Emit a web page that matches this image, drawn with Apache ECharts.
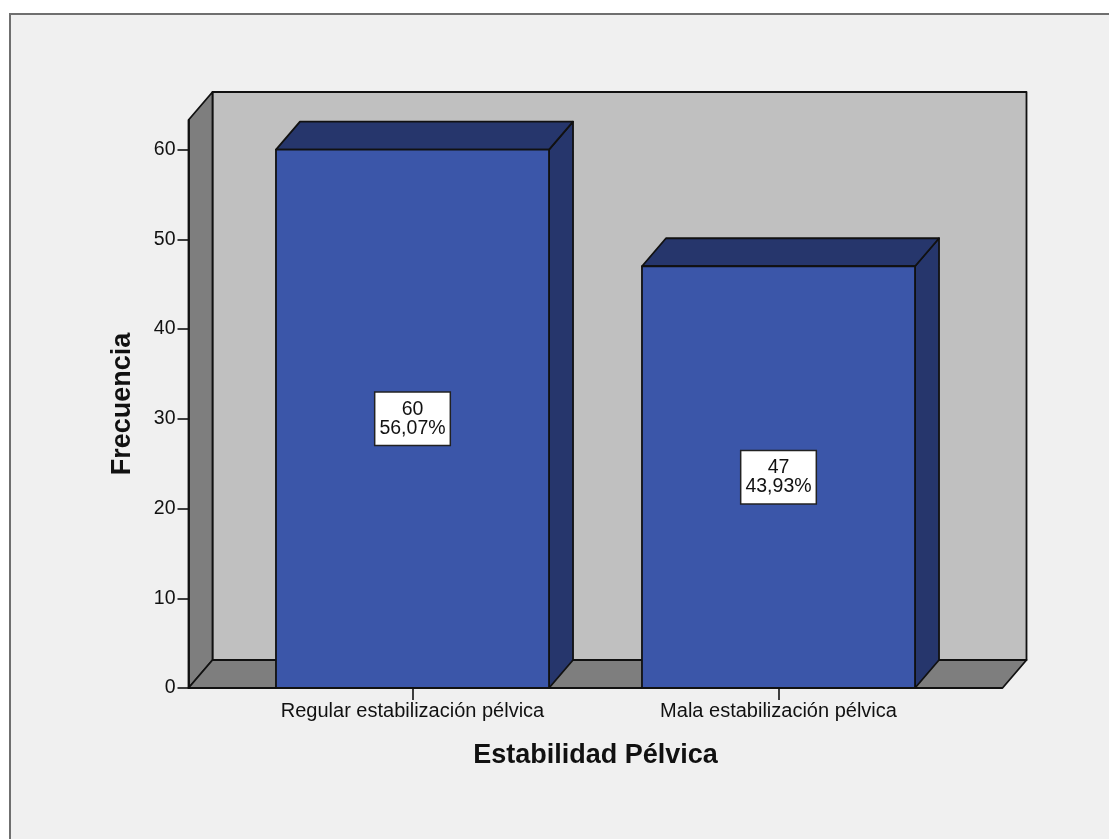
<!DOCTYPE html>
<html>
<head>
<meta charset="utf-8">
<script src="https://cdn.jsdelivr.net/npm/echarts@6/dist/echarts.min.js"></script>
<style>
  html, body { margin: 0; padding: 0; background: #ffffff; }
  #chart { width: 1109px; height: 839px; }
</style>
</head>
<body>
<div id="chart"></div>
<script>
// Frequency of pelvic stability categories
const categories = ['Regular estabilización pélvica', 'Mala estabilización pélvica'];
const counts = [60, 47];
const yTicks = [0, 10, 20, 30, 40, 50, 60];
const yMax = 63.3;

const total = counts.reduce((a, b) => a + b, 0);
const percentLabels = counts.map(c => (c / total * 100).toFixed(2).replace('.', ',') + '%');

// 3D look: depth offset of the back planes, in pixels
const DX = 24, DY = -28;
const WALL_EXT = 41;       // how far the walls reach past the category band
const BAR_RATIO = 0.746;   // bar width as a share of the category band
const FONT = '"Liberation Sans", Arial, sans-serif';

const chart = echarts.init(document.getElementById('chart'), null, { renderer: 'canvas' });

function renderWalls(params, api) {
  const cs = params.coordSys;
  const yBase = api.coord([0, 0])[1];
  const yTop = api.coord([0, yMax])[1];
  const x0 = cs.x - WALL_EXT;
  const x1 = cs.x + cs.width + WALL_EXT;
  const line = { stroke: '#111', lineWidth: 1.8, lineJoin: 'round' };
  return {
    type: 'group',
    children: [
      { type: 'polygon', shape: { points: [[x0 + DX, yTop + DY], [x1 + DX, yTop + DY], [x1 + DX, yBase + DY], [x0 + DX, yBase + DY]] },
        style: Object.assign({ fill: '#c0c0c0' }, line) },
      { type: 'polygon', shape: { points: [[x0, yBase], [x0, yTop], [x0 + DX, yTop + DY], [x0 + DX, yBase + DY]] },
        style: Object.assign({ fill: '#7e7e7e' }, line) },
      { type: 'polygon', shape: { points: [[x0, yBase], [x0 + DX, yBase + DY], [x1 + DX, yBase + DY], [x1, yBase]] },
        style: Object.assign({ fill: '#7e7e7e' }, line) }
    ]
  };
}

function renderBar(params, api) {
  const idx = api.value(0);
  const val = api.value(1);
  const base = api.coord([idx, 0]);
  const top = api.coord([idx, val]);
  const mid = api.coord([idx, val / 2]);
  const w = api.size([1, 0])[0] * BAR_RATIO;
  const l = base[0] - w / 2, r = base[0] + w / 2;
  const yb = base[1], yt = top[1];
  const line = { stroke: '#111', lineWidth: 1.8, lineJoin: 'round' };
  return {
    type: 'group',
    children: [
      { type: 'polygon', shape: { points: [[r, yt], [r + DX, yt + DY], [r + DX, yb + DY], [r, yb]] },
        style: Object.assign({ fill: '#26366c' }, line) },
      { type: 'polygon', shape: { points: [[l, yt], [l + DX, yt + DY], [r + DX, yt + DY], [r, yt]] },
        style: Object.assign({ fill: '#26366c' }, line) },
      { type: 'rect', shape: { x: l, y: yt, width: w, height: yb - yt },
        style: Object.assign({ fill: '#3b56a9' }, line) },
      { type: 'text', x: base[0], y: mid[1],
        style: {
          text: counts[params.dataIndex] + '\n' + percentLabels[params.dataIndex],
          font: '19.5px ' + FONT, fill: '#111', align: 'center', verticalAlign: 'middle',
          lineHeight: 19, backgroundColor: '#ffffff', borderColor: '#222', borderWidth: 1.5,
          padding: [7, 4, 7, 4]
        } }
    ]
  };
}

chart.setOption({
  backgroundColor: '#ffffff',
  animation: false,
  graphic: [{
    type: 'rect', z: 0, silent: true,
    shape: { x: 10, y: 14, width: 1120, height: 860 },
    style: { fill: '#f0f0f0', stroke: '#6f6f6f', lineWidth: 2 }
  }],
  grid: { left: 229.5, right: 147.5, top: 120, bottom: 151 },
  xAxis: {
    type: 'category',
    data: categories,
    name: 'Estabilidad Pélvica',
    nameLocation: 'middle',
    nameGap: 54,
    nameTextStyle: { fontFamily: FONT, fontSize: 27, fontWeight: 'bold', color: '#111' },
    axisLine: { show: false },
    axisTick: { show: true, alignWithLabel: true, length: 12, lineStyle: { color: '#111', width: 1.6 } },
    axisLabel: { margin: 13, fontFamily: FONT, fontSize: 20, color: '#111' },
    z: 5
  },
  yAxis: {
    type: 'value',
    min: 0, max: yMax, interval: 10,
    offset: WALL_EXT,
    name: 'Frecuencia',
    nameLocation: 'middle',
    nameGap: 52,
    nameTextStyle: { fontFamily: FONT, fontSize: 27, fontWeight: 'bold', color: '#111' },
    axisLine: { show: true, lineStyle: { color: '#111', width: 1.8 } },
    axisTick: { show: true, length: 11, customValues: yTicks, lineStyle: { color: '#111', width: 1.6 } },
    axisLabel: { margin: 13, customValues: yTicks, fontFamily: FONT, fontSize: 19.5, color: '#111' },
    splitLine: { show: false },
    z: 5
  },
  series: [
    { type: 'custom', z: 1, silent: true, renderItem: renderWalls, data: [[0, 0]] },
    { type: 'custom', z: 2, renderItem: renderBar, data: counts.map((v, i) => [i, v]) }
  ]
});
</script>
</body>
</html>
